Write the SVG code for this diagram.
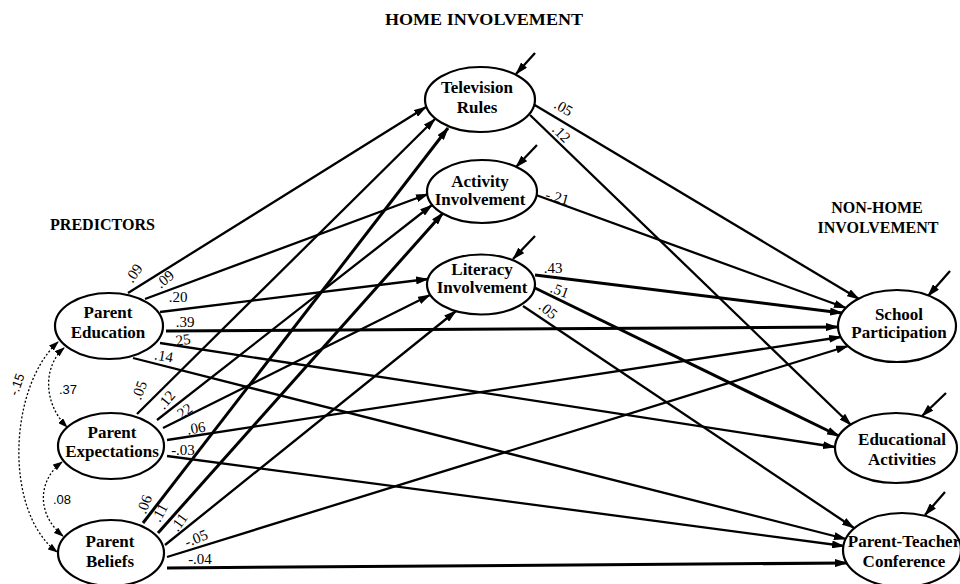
<svg xmlns="http://www.w3.org/2000/svg" width="960" height="584" viewBox="0 0 960 584">
<style>
.node ellipse{fill:#fff;stroke:#000;stroke-width:2.2}
.nt{font-family:"Liberation Serif","Times New Roman",serif;font-weight:bold;font-size:17px;text-anchor:middle;fill:#000}
.title{font-family:"Liberation Serif","Times New Roman",serif;font-weight:bold;font-size:16px;fill:#000}
.p{stroke:#000;stroke-width:2.3;fill:none;marker-end:url(#ah)}
.pt{stroke-width:3}
.d{stroke:#000;stroke-width:1.3;stroke-dasharray:2 2;fill:none;marker-start:url(#ahs);marker-end:url(#ahs)}
.c{font-family:"Liberation Serif","Times New Roman",serif;font-size:15px;fill:#000;text-anchor:middle}
.cs{font-family:"Liberation Sans",Arial,sans-serif;font-size:13px;fill:#000;text-anchor:middle}
</style>
<defs>
<marker id="ah" viewBox="0 0 13 8" refX="12" refY="4" markerWidth="13" markerHeight="8" markerUnits="userSpaceOnUse" orient="auto"><path d="M0,0 L13,4 L0,8 z" fill="#000"/></marker>
<marker id="ahs" viewBox="0 0 10 7" refX="9" refY="3.5" markerWidth="10" markerHeight="7" markerUnits="userSpaceOnUse" orient="auto-start-reverse"><path d="M0,0 L10,3.5 L0,7 z" fill="#000"/></marker>
</defs>
<rect width="960" height="584" fill="#fff"/>

<g id="titles">
<text class="title" x="385" y="25" textLength="198" lengthAdjust="spacingAndGlyphs">HOME INVOLVEMENT</text>
<text class="title" x="50" y="230" textLength="105" lengthAdjust="spacingAndGlyphs">PREDICTORS</text>
<text class="title" x="877" y="213" text-anchor="middle">NON-HOME</text>
<text class="title" x="878" y="233" text-anchor="middle">INVOLVEMENT</text>
</g>

<g id="connectors">
<path class="p" d="M128,293 L426,107"/>
<path class="p" d="M145,299 L428,194"/>
<path class="p" d="M160,312 L428,279"/>
<path class="p pt" d="M166,331 L838,327"/>
<path class="p" d="M160,343 L835,447"/>
<path class="p" d="M133,358 L846,539"/>
<path class="p" d="M137,414 L435,119"/>
<path class="p" d="M157,420 L432,205"/>
<path class="p" d="M163,428 L430,295"/>
<path class="p" d="M167,440 L841,337"/>
<path class="p" d="M167,456 L844,546"/>
<path class="p pt" d="M143,523 L448,128"/>
<path class="p pt" d="M158,533 L443,213"/>
<path class="p" d="M165,545 L456,311"/>
<path class="p" d="M167,557 L848,346"/>
<path class="p pt" d="M167,568 L847,563"/>
<path class="p" d="M533,104 L859,299"/>
<path class="p" d="M530,115 L851,425"/>
<path class="p" d="M536,195 L846,308"/>
<path class="p pt" d="M535,275 L842,313"/>
<path class="p pt" d="M535,288 L839,436"/>
<path class="p" d="M523,306 L854,528"/>
<path class="p" d="M535,53 L516,74"/>
<path class="p" d="M537,145 L516,167"/>
<path class="p" d="M535,236 L513,259"/>
<path class="p" d="M950,271 L928,296"/>
<path class="p" d="M946,393 L922,416"/>
<path class="p" d="M945,492 L925,515"/>
<path class="d" d="M64,348 C44,365 42,402 67,427"/>
<path class="d" d="M62,462 C38,480 36,514 63,536"/>
<path class="d" d="M58,342 C8,388 4,512 57,552"/>
</g>

<g id="coefficients">
<text class="c" transform="translate(138,276) rotate(-55)">.09</text>
<text class="c" transform="translate(168,283) rotate(-40)">.09</text>
<text class="c" x="178" y="302">.20</text>
<text class="c" x="185" y="327">.39</text>
<text class="c" transform="translate(182,345) rotate(-8)">.25</text>
<text class="c" transform="translate(163,361) rotate(10)">.14</text>
<text class="c" transform="translate(144,392) rotate(-70)">.05</text>
<text class="c" transform="translate(170,403) rotate(-50)">.12</text>
<text class="c" transform="translate(186,416) rotate(-35)">.22</text>
<text class="c" transform="translate(197,433) rotate(-10)">.06</text>
<text class="c" x="183" y="455">-.03</text>
<text class="c" transform="translate(149,506) rotate(-70)">.06</text>
<text class="c" transform="translate(164,515) rotate(-62)">.11</text>
<text class="c" transform="translate(183,525) rotate(-55)">.11</text>
<text class="c" transform="translate(198,543) rotate(-22)">-.05</text>
<text class="c" x="200" y="564">-.04</text>
<text class="c" transform="translate(561,112) rotate(30)">.05</text>
<text class="c" transform="translate(558,137) rotate(45)">.12</text>
<text class="c" transform="translate(556,202) rotate(15)">-.21</text>
<text class="c" x="553" y="273">.43</text>
<text class="c" transform="translate(558,295) rotate(20)">.51</text>
<text class="c" transform="translate(545,314) rotate(40)">.05</text>
<text class="cs" x="68" y="394">.37</text>
<text class="cs" x="62" y="504">.08</text>
<text class="cs" transform="translate(21,386) rotate(-70)">-.15</text>
</g>

<g id="parent-education" class="node"><ellipse cx="109" cy="326" rx="54" ry="33"/><text class="nt" x="108" y="318">Parent</text><text class="nt" x="108" y="338">Education</text></g>
<g id="parent-expectations" class="node"><ellipse cx="111" cy="446" rx="53" ry="33"/><text class="nt" x="112" y="438">Parent</text><text class="nt" x="112" y="457">Expectations</text></g>
<g id="parent-beliefs" class="node"><ellipse cx="111" cy="553" rx="53" ry="33"/><text class="nt" x="110" y="547">Parent</text><text class="nt" x="110" y="567">Beliefs</text></g>
<g id="television-rules" class="node"><ellipse cx="480" cy="99.5" rx="55" ry="32.5"/><text class="nt" x="477" y="93">Television</text><text class="nt" x="477" y="113">Rules</text></g>
<g id="activity-involvement" class="node"><ellipse cx="482" cy="191.5" rx="55" ry="31.5"/><text class="nt" x="480" y="187">Activity</text><text class="nt" x="480" y="205">Involvement</text></g>
<g id="literacy-involvement" class="node"><ellipse cx="481" cy="284.5" rx="54" ry="30"/><text class="nt" x="482" y="275">Literacy</text><text class="nt" x="482" y="293">Involvement</text></g>
<g id="school-participation" class="node"><ellipse cx="897" cy="326" rx="59" ry="36"/><text class="nt" x="899" y="320">School</text><text class="nt" x="899" y="338">Participation</text></g>
<g id="educational-activities" class="node"><ellipse cx="896" cy="448" rx="61" ry="35"/><text class="nt" x="902" y="445">Educational</text><text class="nt" x="902" y="465">Activities</text></g>
<g id="parent-teacher-conference" class="node"><ellipse cx="902" cy="550" rx="59" ry="37"/><text class="nt" x="904" y="547">Parent-Teacher</text><text class="nt" x="904" y="567">Conference</text></g>
</svg>
